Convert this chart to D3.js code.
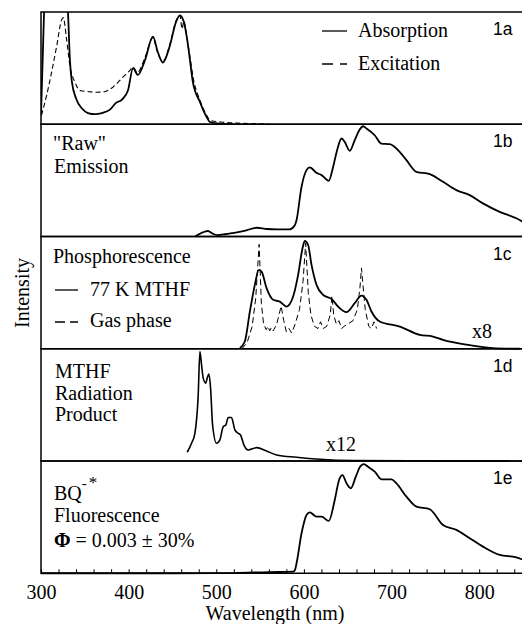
<!DOCTYPE html>
<html>
<head>
<meta charset="utf-8">
<script src="https://cdn.jsdelivr.net/npm/d3@7"></script>
<style>
  body { margin: 0; background: #fff; }
  svg { display: block; }
</style>
</head>
<body>
<div class="canvas"></div>
<script>
//Data: [wavelength nm, intensity 0..1 of its panel]
var absorption = [[300,0.08],[302,0.6],[303.5,1.0],[306,1.4],[315,1.6],[326,1.45],[330.8,1.0],[333,0.57],[335.3,0.375],
  [340,0.23],[346.8,0.14],[353.6,0.10],[361.6,0.09],[369.6,0.10],[378.7,0.13],[385.5,0.19],[392.4,0.22],[399.2,0.30],
  [405,0.50],[410.6,0.44],[418.6,0.57],[427.7,0.78],[433.4,0.64],[439.1,0.55],[447,0.70],[454,0.91],[458.5,0.97],
  [463,0.91],[466.5,0.77],[470,0.57],[473.3,0.375],[481.3,0.20],[489.3,0.06],[492.7,0.02],[504,0.005],[520,0]];
var excitation = [[300.5,0.08],[306.5,0.26],[312,0.46],[318,0.70],[323.5,0.93],[325.5,0.95],[329,0.77],[333,0.52],
  [339,0.37],[344.5,0.30],[355,0.29],[363.5,0.285],[372,0.29],[382,0.33],[393.5,0.42],[401.5,0.48],[405,0.51],
  [410,0.46],[418,0.58],[427.7,0.77],[433,0.64],[439,0.56],[447,0.71],[454,0.92],[458.5,0.97],[461,0.85],[463,0.92],
  [466,0.80],[470,0.60],[474,0.40],[481,0.22],[489,0.08],[493,0.035],[505,0.02],[525,0.01],[550,0.004],[560,0]];
var rawEmission = [[476,0],[478,0.01],[484,0.035],[490.4,0.049],[496,0.025],[500.7,0.013],[510,0.02],[518.9,0.031],
  [532,0.05],[546.3,0.078],[557.7,0.067],[570,0.064],[583.9,0.064],[589.6,0.10],[591.6,0.147],[597.3,0.443],
  [603,0.591],[606.7,0.615],[614.4,0.567],[620.1,0.547],[628.4,0.496],[633.3,0.62],[637.9,0.769],[642.9,0.873],
  [646.6,0.843],[652.3,0.763],[658,0.858],[663.7,0.953],[667.5,0.982],[671.4,0.962],[680.8,0.902],[688.5,0.828],
  [697.9,0.822],[705.6,0.784],[717,0.68],[728.4,0.576],[743.6,0.556],[758.7,0.487],[774,0.413],[789.2,0.369],
  [804.3,0.295],[823.4,0.22],[842.4,0.162],[850,0.13]];
var phosMTHF = [[526.9,0.006],[532.6,0.065],[538.3,0.33],[544,0.569],[548.6,0.702],[551.7,0.687],[557.4,0.54],
  [564.9,0.436],[572.5,0.42],[580.2,0.376],[587.7,0.465],[593.4,0.658],[598.4,0.895],[601,0.96],[604.8,0.924],
  [608.7,0.747],[614.4,0.569],[621.9,0.48],[631.5,0.444],[639,0.376],[648.6,0.326],[658,0.406],[665.7,0.474],
  [671.4,0.436],[677.1,0.332],[686.5,0.243],[709.4,0.198],[732.2,0.124],[747.3,0.109],[758.7,0.08],[785.4,0.036],
  [815.7,0.006],[846.2,0]];
var phosGas = [[529,0],[535,0.05],[541,0.2],[545,0.45],[548.9,0.93],[551.5,0.4],[554,0.22],[557,0.17],[559,0.2],
  [561,0.16],[563,0.19],[565,0.16],[569,0.22],[574,0.38],[577,0.25],[580,0.15],[583,0.18],[586,0.14],[590,0.22],
  [595,0.35],[599,0.6],[602,0.94],[605,0.5],[608,0.3],[612,0.2],[616,0.18],[619,0.24],[622,0.18],[626,0.2],
  [630,0.3],[632,0.47],[634,0.3],[637,0.22],[640,0.25],[643,0.18],[646,0.2],[650,0.22],[656,0.25],[661,0.35],
  [664,0.55],[665.7,0.72],[667,0.6],[670,0.35],[674,0.2],[677,0.18],[680,0.24],[683,0.18]];
var radProduct = [[466.8,0.078],[471.8,0.158],[475.6,0.247],[479.4,0.589],[481.3,0.976],[483.2,0.857],[485.1,0.738],
  [488.1,0.694],[489.6,0.738],[491.6,0.774],[493.5,0.649],[495.8,0.321],[500.3,0.158],[504.1,0.188],[507.9,0.306],
  [510.9,0.321],[513.6,0.387],[517.4,0.387],[521.2,0.277],[525,0.247],[527.7,0.232],[531.5,0.143],[536.4,0.098],
  [546,0.119],[557.4,0.089],[568.8,0.054],[591.6,0.033],[618.1,0.015],[656.1,0.004],[740,0.002],[835,0.001]];
var fluorescence = [[300,0],[450,0],[520,0.002],[560,0.01],[587.7,0.014],[589.8,0.029],[591.6,0.089],[597.3,0.356],
  [603,0.519],[606.7,0.543],[614.4,0.504],[620.1,0.504],[628.4,0.466],[635.2,0.653],[640.1,0.831],[644,0.875],
  [648.6,0.801],[653.5,0.757],[659.2,0.86],[663.7,0.944],[668.3,0.973],[673.2,0.949],[680.8,0.905],[688.5,0.837],
  [699.9,0.837],[705.6,0.801],[717,0.682],[728.4,0.593],[743.6,0.57],[758.7,0.43],[774,0.386],[789.2,0.312],
  [804.3,0.237],[823.4,0.163],[842.4,0.142],[850,0.12]];

var panelNames = ['1a','1b','1c','1d','1e'];
var tickValues = d3.range(300, 851, 20);
var tickLabels = [300, 400, 500, 600, 700, 800];

var SERIF = 'Liberation Serif';
var SANS = 'Liberation Sans';
var FS = 20;

//Set up the drawing environment
var width = 522, height = 624;
var left = 41, right = 523, top0 = 12, panelH = 112.25;

var svg = d3.select('.canvas')
  .append('svg')
  .attr('width', width)
  .attr('height', height);

var x = d3.scaleLinear().domain([300, 850]).range([left, right]);

//one y scale per panel
var panelY = panelNames.map(function (d, i) {
  var t = top0 + i * panelH;
  return d3.scaleLinear().domain([0, 1]).range([t + panelH, t]);
});

svg.append('clipPath')
  .attr('id', 'clipA')
  .append('rect')
  .attr('x', left).attr('y', top0)
  .attr('width', right - left).attr('height', panelH);

function drawLine(data, panel, dash, widthPx, curve) {
  var y = panelY[panel];
  var line = d3.line()
    .x(function (d) { return x(d[0]); })
    .y(function (d) { return y(d[1]); })
    .curve(curve || d3.curveMonotoneX);
  var p = svg.append('path')
    .datum(data)
    .attr('d', line)
    .attr('fill', 'none')
    .attr('stroke', '#000')
    .attr('stroke-width', widthPx)
    .attr('stroke-linejoin', 'round');
  if (dash) p.attr('stroke-dasharray', dash);
  if (panel == 0) p.attr('clip-path', 'url(#clipA)');
}

drawLine(excitation, 0, '5,3', 1.1);
drawLine(absorption, 0, null, 1.8);
drawLine(rawEmission, 1, null, 1.8);
drawLine(phosGas, 2, '6,3.5', 1.0, d3.curveLinear);
drawLine(phosMTHF, 2, null, 1.8);
drawLine(radProduct, 3, null, 1.6);
drawLine(fluorescence, 4, null, 1.8);

//panel frames
panelNames.forEach(function (name, i) {
  svg.append('rect')
    .attr('x', left)
    .attr('y', top0 + i * panelH)
    .attr('width', right - left)
    .attr('height', panelH)
    .attr('fill', 'none')
    .attr('stroke', '#000')
    .attr('stroke-width', 1.5);
  svg.append('text')
    .attr('x', 493)
    .attr('y', top0 + i * panelH + 23)
    .attr('font-family', SANS)
    .attr('font-size', 17.5)
    .text(name);
});

//bottom axis with inward ticks
var axis = d3.axisBottom(x)
  .tickValues(tickValues)
  .tickSizeInner(-4)
  .tickSizeOuter(0)
  .tickPadding(12)
  .tickFormat(function (d) { return tickLabels.indexOf(d) >= 0 ? d : ''; });

var gx = svg.append('g')
  .attr('transform', 'translate(0,' + (top0 + 5 * panelH) + ')')
  .call(axis)
  .attr('font-family', SERIF)
  .attr('font-size', FS);
gx.select('.domain').remove();
gx.selectAll('line').attr('stroke-width', 1);
gx.selectAll('text').attr('fill', '#000');

//labels
function label(txt, xx, yy) {
  return svg.append('text')
    .attr('x', xx)
    .attr('y', yy)
    .attr('font-family', SERIF)
    .attr('font-size', FS)
    .attr('fill', '#000')
    .text(txt);
}
function legendLine(x1, x2, yy, dash) {
  var l = svg.append('line')
    .attr('x1', x1).attr('x2', x2).attr('y1', yy).attr('y2', yy)
    .attr('stroke', '#000').attr('stroke-width', 1.3);
  if (dash) l.attr('stroke-dasharray', dash);
}

label('Wavelength (nm)', 275, 620).attr('text-anchor', 'middle');
label('Intensity', 0, 0)
  .attr('transform', 'translate(29,293) rotate(-90)')
  .attr('text-anchor', 'middle');

legendLine(322, 347, 31, null);
label('Absorption', 358, 37);
legendLine(322, 347, 64, '11,7');
label('Excitation', 358, 70);

label('"Raw"', 53, 150);
label('Emission', 54, 173);

label('Phosphorescence', 53, 263);
legendLine(55, 78, 290, null);
label('77 K MTHF', 90, 296);
legendLine(55, 78, 322, '10,5');
label('Gas phase', 90, 327);
label('x8', 472, 338);

label('MTHF', 55, 378);
label('Radiation', 55, 400);
label('Product', 55, 421);
label('x12', 326, 451);

var bq = label('BQ', 54, 500);
bq.append('tspan').attr('dy', -12).attr('font-size', 15).text('-');
bq.append('tspan').attr('dx', 2).attr('font-size', 17).text('*');
label('Fluorescence', 54, 522);
var phi = label('', 54, 547);
phi.append('tspan').attr('font-weight', 'bold').text('\u03A6');
phi.append('tspan').text(' = 0.003 \u00B1 30%');
</script>
</body>
</html>
